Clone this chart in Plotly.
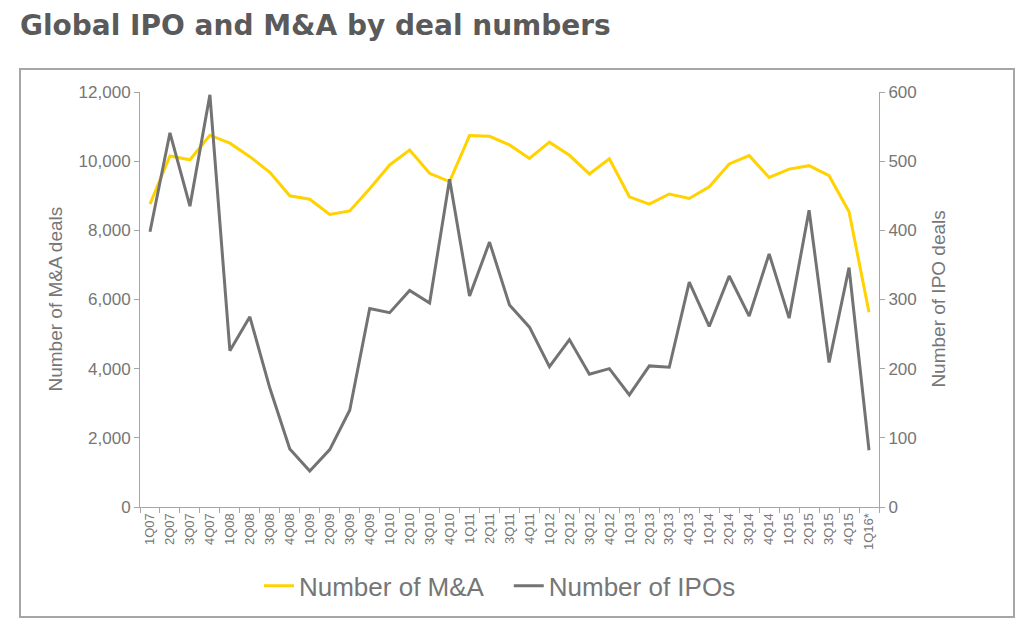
import plotly.graph_objects as go

quarters = ["1Q07", "2Q07", "3Q07", "4Q07", "1Q08", "2Q08", "3Q08", "4Q08",
            "1Q09", "2Q09", "3Q09", "4Q09", "1Q10", "2Q10", "3Q10", "4Q10",
            "1Q11", "2Q11", "3Q11", "4Q11", "1Q12", "2Q12", "3Q12", "4Q12",
            "1Q13", "2Q13", "3Q13", "4Q13", "1Q14", "2Q14", "3Q14", "4Q14",
            "1Q15", "2Q15", "3Q15", "4Q15", "1Q16*"]

ma_deals = [8760, 10150, 10040, 10750, 10520, 10130, 9680, 9000,
            8900, 8460, 8560, 9200, 9890, 10320, 9650, 9410,
            10740, 10720, 10470, 10080, 10550, 10170, 9630, 10070,
            8970, 8760, 9050, 8920, 9260, 9920, 10160, 9530,
            9770, 9870, 9580, 8540, 5630]

ipo_deals = [398, 541, 435, 596, 226, 275, 172, 84,
             52, 83, 140, 287, 281, 313, 295, 474,
             305, 383, 292, 260, 203, 242, 192, 200,
             162, 204, 202, 325, 261, 334, 276, 366,
             273, 429, 209, 346, 82]

grey = "#767676"
axis_font = dict(family="Liberation Sans, Arial", color=grey)
legend_font = dict(family="Liberation Sans, Arial", size=26, color=grey)

fig = go.Figure()
fig.add_trace(go.Scatter(x=quarters, y=ma_deals, name="Number of M&A",
                         mode="lines", line=dict(color="#FFD200", width=3),
                         legend="legend"))
fig.add_trace(go.Scatter(x=quarters, y=ipo_deals, name="Number of IPOs",
                         mode="lines", line=dict(color="#737373", width=3),
                         yaxis="y2", legend="legend2"))

# page body adds an 8px offset, so the figure is drawn 8px smaller
fig.update_layout(
    width=1021, height=624,
    margin=dict(l=132, r=150, t=84, b=125),
    paper_bgcolor="white", plot_bgcolor="white",
    showlegend=True,
    legend=dict(x=0.161, xanchor="left", y=-0.19, yanchor="middle",
                font=legend_font, itemwidth=30, bgcolor="rgba(0,0,0,0)"),
    legend2=dict(x=0.499, xanchor="left", y=-0.19, yanchor="middle",
                 font=legend_font, itemwidth=30, bgcolor="rgba(0,0,0,0)"),
    xaxis=dict(type="category", range=[-0.5, 36.5], tickangle=-90,
               tickson="boundaries", ticks="outside", ticklen=5, tickcolor="#a6a6a6",
               showline=True, linecolor="#a6a6a6", linewidth=1,
               showgrid=False, zeroline=False,
               tickfont=dict(size=13, **axis_font)),
    yaxis=dict(range=[0, 12000], dtick=2000, tickformat=",",
               ticks="outside", ticklen=5, tickcolor="#a6a6a6",
               showline=True, linecolor="#a6a6a6", linewidth=1,
               showgrid=False, zeroline=False,
               tickfont=dict(size=17, **axis_font)),
    yaxis2=dict(range=[0, 600], dtick=100, overlaying="y", side="right",
                ticks="outside", ticklen=5, tickcolor="#a6a6a6",
                showline=True, linecolor="#a6a6a6", linewidth=1,
                showgrid=False, zeroline=False,
                tickfont=dict(size=17, **axis_font)),
)

# outer frame
fig.add_shape(type="rect", xref="paper", yref="paper",
              x0=-0.1624, x1=1.1827, y0=-0.265, y1=1.0554,
              line=dict(color="#a6a6a6", width=2), layer="below")

fig.add_annotation(text="Global IPO and M&A by deal numbers", xref="paper", yref="paper",
                   x=-0.165, y=1.16, xanchor="left", yanchor="middle", showarrow=False,
                   font=dict(family="DejaVu Sans", size=28, color="#5a5a5a", weight="bold"))
fig.add_annotation(text="Number of M&A deals", xref="paper", yref="paper",
                   x=-0.115, y=0.5, xanchor="center", yanchor="middle", showarrow=False,
                   textangle=-90, font=dict(size=19, **axis_font))
fig.add_annotation(text="Number of IPO deals", xref="paper", yref="paper",
                   x=1.08, y=0.5, xanchor="center", yanchor="middle", showarrow=False,
                   textangle=-90, font=dict(size=19, **axis_font))

fig.write_html("out.html")
